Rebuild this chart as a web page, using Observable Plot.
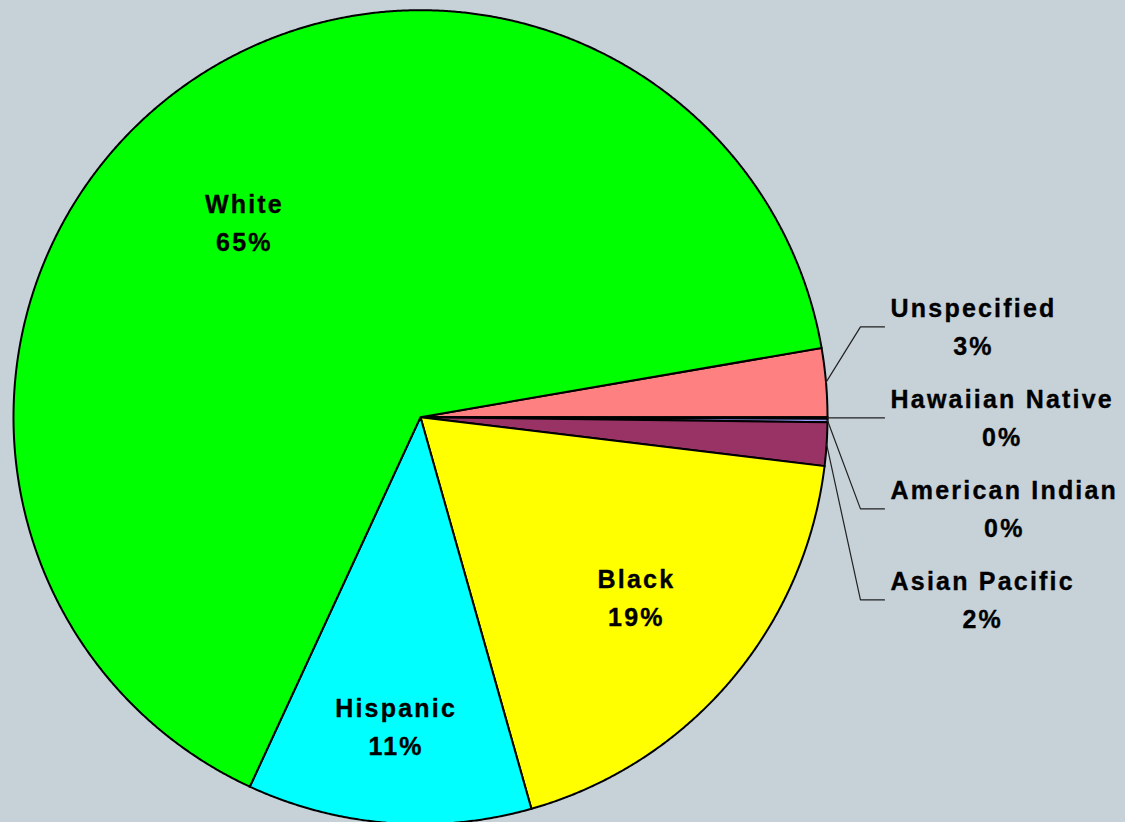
<!DOCTYPE html>
<html><head><meta charset="utf-8">
<script src="https://cdn.jsdelivr.net/npm/d3@7"></script>
<script src="https://cdn.jsdelivr.net/npm/@observablehq/plot@0.6"></script>
<style>
html,body{margin:0;padding:0;background:#C6D1D8;}
#chart svg text{letter-spacing:2.2px;}
</style></head><body><div id="chart"></div>
<script>
// ---- data ----
const categories = ["Unspecified","Hawaiian Native","American Indian","Asian Pacific","Black","Hispanic","White"];
const shares = [2.72, 0.06, 0.14, 1.72, 18.69, 11.28, 65.39];
const colors = ["#FF8080","#CCFFFF","#9999FF","#993366","#FFFF00","#00FFFF","#00FF00"];

// ---- layout ----
const W = 1125, H = 822, CX = 420, CY = 416.7, R = 407;
const startDeg = 80.2;
const FONT = "Liberation Sans, Arial, Helvetica, sans-serif";
const FS = 25, LS = 2.2, LINE_H = 1.52, TEXT_DY = -3.5;
const insideLayout = {White: {r: 0.644, shift: -4.7}, Black: {r: 0.692, shift: -0.6}, Hispanic: {r: 0.765, shift: 0}};
const elbowX = 1.081, leaderEndX = 1.14, textStartX = 1.155, outsideGap = 91 / R;
const rad = Math.PI / 180;

const total = d3.sum(shares);
const arcs = d3.pie().sort(null).startAngle(startDeg * rad).endAngle(startDeg * rad + 2 * Math.PI)(shares);
const slices = arcs.map((a, i) => ({name: categories[i], value: shares[i], color: colors[i], a0: a.startAngle, a1: a.endAngle, mid: (a.startAngle + a.endAngle) / 2, pct: Math.round(shares[i] / total * 100) + "%"}));

// polygons
const poly = [];
slices.forEach(s => {
  const n = Math.max(2, Math.ceil((s.a1 - s.a0) / (0.25 * rad)));
  poly.push({name: s.name, color: s.color, x: 0, y: 0});
  for (let k = 0; k <= n; k++) {
    const a = s.a0 + (s.a1 - s.a0) * k / n;
    poly.push({name: s.name, color: s.color, x: Math.sin(a), y: Math.cos(a)});
  }
  poly.push({name: s.name, color: s.color, x: 0, y: 0});
});

// inside labels
const inside = slices.filter(s => s.value >= 5).map(s => {
  const L = insideLayout[s.name] || {r: 0.7, shift: 0};
  const a = s.mid + L.shift * rad;
  return {text: s.name + "\n" + s.pct, x: L.r * Math.sin(a), y: L.r * Math.cos(a)};
});

// outside labels (stacked around the one nearest horizontal)
const outside = slices.filter(s => s.value < 5);
let anchor = 0;
outside.forEach((s, i) => { if (Math.abs(Math.cos(s.mid)) < Math.abs(Math.cos(outside[anchor].mid))) anchor = i; });
const anchorY = Math.cos(outside[anchor].mid);
const ctx = document.createElement("canvas").getContext("2d");
ctx.font = `bold ${FS}px Liberation Sans, Arial, sans-serif`;
const textW = t => (ctx.measureText(t).width + LS * t.length) / R;
const leaders = [], outLabels = [];
outside.forEach((s, i) => {
  const ly = anchorY - (i - anchor) * outsideGap;
  leaders.push({name: s.name, x: Math.sin(s.mid), y: Math.cos(s.mid)});
  leaders.push({name: s.name, x: elbowX, y: ly});
  leaders.push({name: s.name, x: leaderEndX, y: ly});
  const w = Math.max(textW(s.name), textW(s.pct));
  outLabels.push({text: s.name + "\n" + s.pct, x: textStartX + w / 2, y: ly});
});

const textOpts = {x: "x", y: "y", text: "text", fill: "black", stroke: "black", strokeWidth: 0.35, fontSize: FS, fontWeight: "bold", lineHeight: LINE_H, fontFamily: FONT, dy: TEXT_DY};

const chart = Plot.plot({
  width: W, height: H, margin: 0,
  x: {domain: [-CX / R, (W - CX) / R], range: [0, W], axis: null},
  y: {domain: [-(H - CY) / R, CY / R], range: [H, 0], axis: null},
  style: {background: "#C6D1D8", fontFamily: FONT},
  marks: [
    Plot.line(poly, {x: "x", y: "y", z: "name", fill: "color", stroke: "black", strokeWidth: 2, curve: "linear", strokeLinejoin: "miter", strokeMiterlimit: 4}),
    Plot.line(leaders, {x: "x", y: "y", z: "name", stroke: "#222", strokeWidth: 1.2, curve: "linear"}),
    Plot.text(inside, textOpts),
    Plot.text(outLabels, textOpts)
  ]
});
document.getElementById("chart").appendChild(chart);
</script></body></html>
